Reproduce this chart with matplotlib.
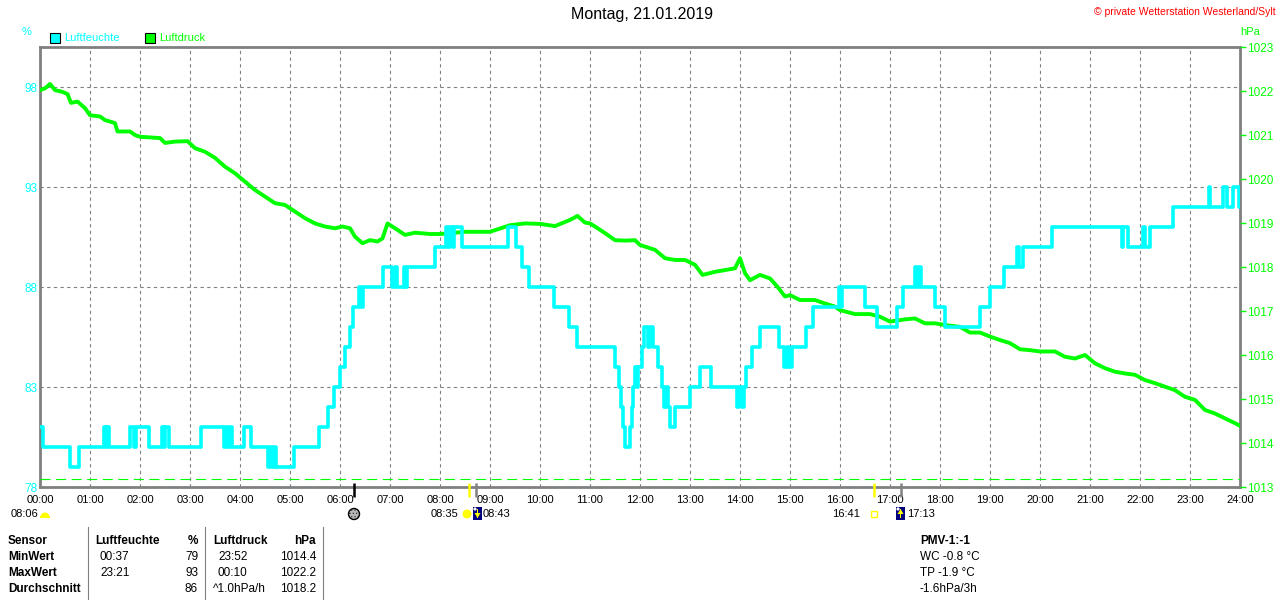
"""
Tagesgrafik Luftfeuchte / Luftdruck - Wetterstation Westerland/Sylt, 21.01.2019
"""

import matplotlib
matplotlib.use('Agg')
import matplotlib.pyplot as plt
import matplotlib.transforms as mtransforms
from matplotlib.patches import Rectangle, Circle, Wedge, Polygon

plt.rcParams['font.family'] = ['Liberation Sans', 'DejaVu Sans']
plt.rcParams['hatch.linewidth'] = 0.6

W, H = 1280, 600

# --- data --------------------------------------------------------------
title = "Montag, 21.01.2019"
copyright_text = "\u00a9 private Wetterstation Westerland/Sylt"

hour_ticks = list(range(25))
hour_labels = [f"{h:02d}:00" for h in hour_ticks]

hum_ticks = [78, 83, 88, 93, 98]
hum_lim = (78, 100)
press_ticks = list(range(1013, 1024))
press_lim = (1013, 1023)
press_ref_line = 1013.18

# Luftfeuchte in % (step, starting hour)
hum_t = [0.00, 0.05, 0.60, 0.77, 1.28, 1.31, 1.34, 1.37, 1.79, 1.88, 1.91, 2.17,
         2.44, 2.47, 2.50, 2.58, 3.21, 3.68, 3.72, 3.76, 3.79, 3.83, 4.07, 4.21,
         4.56, 4.60, 4.64, 4.68, 4.72, 5.07, 5.57, 5.75, 5.87, 6.00, 6.10, 6.19,
         6.25, 6.37, 6.41, 6.45, 6.85, 7.03, 7.10, 7.14, 7.27, 7.30, 7.34, 7.90,
         8.12, 8.16, 8.20, 8.25, 8.28, 8.43, 9.37, 9.52, 9.63, 9.77, 10.27, 10.57,
         10.73, 11.50, 11.57, 11.62, 11.66, 11.69, 11.79, 11.83, 11.86, 11.90, 11.93,
         11.96, 12.03, 12.08, 12.15, 12.19, 12.25, 12.35, 12.43, 12.47, 12.51, 12.55,
         12.59, 12.69, 13.00, 13.19, 13.42, 13.93, 13.98, 14.03, 14.08, 14.12, 14.23,
         14.39, 14.77, 14.87, 14.93, 14.98, 15.03, 15.32, 15.45, 15.97, 16.00, 16.04,
         16.50, 16.73, 17.13, 17.25, 17.50, 17.54, 17.58, 17.62, 17.90, 18.10, 18.80,
         19.00, 19.27, 19.53, 19.58, 19.66, 20.23, 21.63, 21.66, 21.75, 22.05, 22.10,
         22.20, 22.65, 23.37, 23.40, 23.65, 23.73, 23.85, 23.97, 24.00]
hum_v = [81, 80, 79, 80, 81, 80, 81, 80, 81, 80, 81, 80,
         81, 80, 81, 80, 81, 80, 81, 80, 81, 80, 81, 80,
         79, 80, 79, 80, 79, 80, 81, 82, 83, 84, 85, 86,
         87, 88, 87, 88, 89, 88, 89, 88, 89, 88, 89, 90,
         91, 90, 91, 90, 91, 90, 91, 90, 89, 88, 87, 86,
         85, 84, 83, 82, 81, 80, 81, 82, 83, 84, 83,
         84, 85, 86, 85, 86, 85, 84, 83, 82, 83, 82,
         81, 82, 83, 84, 83, 82, 83, 82, 83, 84, 85,
         86, 85, 84, 85, 84, 85, 86, 87, 88, 87, 88,
         87, 86, 87, 88, 89, 88, 89, 88, 87, 86, 87,
         88, 89, 90, 89, 90, 91, 90, 91, 90, 91, 90,
         91, 92, 93, 92, 93, 92, 93, 92, 92]

# Luftdruck in hPa
press_t = [0.0, 0.1, 0.2, 0.3, 0.45, 0.55, 0.62, 0.75, 0.9, 1.0, 1.2, 1.3, 1.5, 1.55,
           1.8, 1.9, 2.0, 2.4, 2.5, 2.7, 2.95, 3.1, 3.3, 3.5, 3.7, 3.9, 4.1, 4.3, 4.5,
           4.7, 4.9, 5.1, 5.3, 5.5, 5.7, 5.9, 6.05, 6.2, 6.3, 6.45, 6.6, 6.75, 6.85,
           6.95, 7.1, 7.3, 7.5, 7.8, 8.0, 8.5, 9.0, 9.4, 9.7, 10.0, 10.3, 10.6, 10.75,
           10.9, 11.0, 11.1, 11.3, 11.5, 11.7, 11.9, 12.0, 12.3, 12.5, 12.7, 12.9, 13.1,
           13.25, 13.5, 13.9, 14.0, 14.1, 14.2, 14.4, 14.6, 14.75, 14.9, 15.0, 15.2,
           15.5, 15.7, 15.9, 16.0, 16.3, 16.6, 16.8, 17.0, 17.3, 17.5, 17.7, 17.9, 18.1,
           18.4, 18.6, 18.8, 19.0, 19.2, 19.4, 19.6, 19.8, 20.0, 20.3, 20.5, 20.7, 20.9,
           21.1, 21.3, 21.5, 21.7, 21.9, 22.1, 22.3, 22.5, 22.7, 22.9, 23.1, 23.3, 23.5,
           23.7, 23.9, 24.0]
press_v = [1022.02, 1022.06, 1022.16, 1022.02, 1021.98, 1021.93, 1021.73, 1021.76,
           1021.61, 1021.45, 1021.42, 1021.34, 1021.27, 1021.08, 1021.08, 1021.00,
           1020.96, 1020.93, 1020.82, 1020.85, 1020.86, 1020.70, 1020.62, 1020.48,
           1020.28, 1020.13, 1019.94, 1019.75, 1019.60, 1019.45, 1019.41, 1019.26,
           1019.11, 1018.99, 1018.92, 1018.88, 1018.92, 1018.88, 1018.69, 1018.54,
           1018.61, 1018.58, 1018.65, 1018.99, 1018.88, 1018.73, 1018.78, 1018.75,
           1018.75, 1018.80, 1018.80, 1018.95, 1018.99, 1018.98, 1018.93, 1019.07,
           1019.16, 1019.01, 1018.99, 1018.92, 1018.77, 1018.61, 1018.60, 1018.61,
           1018.50, 1018.39, 1018.20, 1018.16, 1018.16, 1018.05, 1017.82, 1017.89,
           1017.97, 1018.20, 1017.86, 1017.70, 1017.82, 1017.74, 1017.55, 1017.33,
           1017.36, 1017.25, 1017.25, 1017.17, 1017.10, 1017.02, 1016.93, 1016.93,
           1016.87, 1016.76, 1016.81, 1016.83, 1016.72, 1016.72, 1016.68, 1016.64,
           1016.51, 1016.51, 1016.42, 1016.34, 1016.27, 1016.13, 1016.11, 1016.08,
           1016.08, 1015.96, 1015.92, 1016.00, 1015.81, 1015.70, 1015.62, 1015.58,
           1015.55, 1015.43, 1015.36, 1015.28, 1015.20, 1015.05, 1014.98, 1014.75,
           1014.67, 1014.56, 1014.45, 1014.39]

# Sonne / Mond Ereignisse (Stunden)
moon_full_t = 6.28
sunrise_t, sunrise2_t = 8.58, 8.72
sunset_t, sunset2_t = 16.68, 17.22
moonset_label = "08:06"
sun_labels = ["08:35", "08:43", "16:41", "17:13"]

# Tabelle unten
table_rows = ["Sensor", "MinWert", "MaxWert", "Durchschnitt"]
hum_cols = [("Luftfeuchte", "%"), ("00:37", "79"), ("23:21", "93"), ("", "86")]
press_cols = [("Luftdruck", "hPa"), ("23:52", "1014.4"), ("00:10", "1022.2"),
              ("^1.0hPa/h", "1018.2")]
pmv_lines = ["PMV-1:-1", "WC -0.8 \u00b0C", "TP -1.9 \u00b0C", "-1.6hPa/3h"]

CYAN = '#00FFFF'
GREEN = '#00FF00'
YELLOW = '#FFFF00'
NAVY = '#000080'
GRAY = '#808080'

fig = plt.figure(figsize=(W / 100, H / 100), dpi=100)
left, right, top, bottom = 40, 1240, 47, 487
ax = fig.add_axes([left / W, 1 - bottom / H, (right - left) / W, (bottom - top) / H])
ax2 = ax.twinx()
ax3 = ax.twinx()

# grid + left axis
ax.set_xlim(0, 24)
ax.set_ylim(*hum_lim)
ax.set_xticks(hour_ticks)
ax.set_xticklabels(hour_labels, fontsize=8)
ax.set_yticks(hum_ticks)
ax.set_yticklabels([str(v) for v in hum_ticks], fontsize=8.5, color=CYAN)
ax.tick_params(axis='both', length=0)
ax.tick_params(axis='x', pad=6)
ax.tick_params(axis='y', pad=2)
ax.grid(True, color=GRAY, linestyle=(0, (3, 3)), linewidth=0.8)
for s in ax.spines.values():
    s.set_color(GRAY)
    s.set_linewidth(2.0)

# pressure
ax2.set_ylim(*press_lim)
ax2.set_yticks(press_ticks)
ax2.set_yticklabels([str(v) for v in press_ticks], fontsize=8.5, color=GREEN)
ax2.tick_params(axis='y', length=4, width=1, color=GREEN, pad=1)
for s in ax2.spines.values():
    s.set_visible(False)
ax2.axhline(press_ref_line, color=GREEN, linewidth=0.8, linestyle=(0, (9, 5)))
ax2.plot(press_t, press_v, color=GREEN, linewidth=2.8)

# humidity on top
ax3.set_ylim(*hum_lim)
ax3.axis('off')
ax3.step(hum_t, hum_v, where='post', color=CYAN, linewidth=2.6)

# overlay in pixel coordinates for the decorations
ov = fig.add_axes([0, 0, 1, 1], zorder=10)
ov.set_xlim(0, W)
ov.set_ylim(H, 0)
ov.axis('off')
ov.patch.set_visible(False)


def txt(x, y, s, **kw):
    kw.setdefault('fontsize', 8)
    kw.setdefault('va', 'center')
    ov.text(x, y, s, **kw)


# titles & legend
txt(642, 15, title, ha='center', fontsize=11.5)
txt(1276, 12, copyright_text, ha='right', fontsize=7.5, color='red')
txt(22, 32, "%", ha='left', color=CYAN)
txt(1240, 32, "hPa", ha='left', color=GREEN)
for x0, col, label in [(50, CYAN, "Luftfeuchte"), (145, GREEN, "Luftdruck")]:
    ov.add_patch(Rectangle((x0, 33), 10, 10, facecolor=col, edgecolor='black', linewidth=0.8))
    txt(x0 + 14, 38, label, ha='left', color=col)

# sun / moon markers below the axis
trans = mtransforms.blended_transform_factory(ax.transData, fig.transFigure)
y_a, y_b = 1 - 483 / H, 1 - 497 / H
for t, col in [(moon_full_t, 'black'), (sunrise_t, YELLOW), (sunrise2_t, GRAY),
               (sunset_t, YELLOW), (sunset2_t, GRAY)]:
    ax.plot([t, t], [y_a, y_b], transform=trans, color=col, linewidth=1.8,
            clip_on=False, zorder=5, solid_capstyle='butt')

ylab = 514
txt(38, ylab, moonset_label, ha='right')
ov.add_patch(Wedge((45, 517), 4.5, 180, 360, facecolor=YELLOW, edgecolor='none'))
ov.add_patch(Rectangle((40, 516), 10, 2, facecolor=YELLOW, edgecolor='none'))
ov.add_patch(Circle((354, 514), 5.5, facecolor='#B8B8B8', edgecolor='#404040',
                    linewidth=0.0, hatch='.....'))
ov.add_patch(Circle((354, 514), 5.5, facecolor='none', edgecolor='black', linewidth=1.0))
txt(458, ylab, sun_labels[0], ha='right')
ov.add_patch(Circle((467, 514), 4.5, facecolor=YELLOW, edgecolor='none'))
txt(483, ylab, sun_labels[1], ha='left')
txt(860, ylab, sun_labels[2], ha='right')
ov.add_patch(Rectangle((871, 511), 6, 6, facecolor='none', edgecolor=YELLOW, linewidth=1.0))
txt(907, ylab, sun_labels[3], ha='left')
for bx, down in [(473, True), (896, False)]:
    ov.add_patch(Rectangle((bx, 507), 9, 13, facecolor=NAVY, edgecolor='none'))
    ov.add_patch(Circle((bx + 2, 509), 1.6, facecolor='white', edgecolor='none'))
    ov.add_patch(Rectangle((bx + 3.8, 509), 1.6, 9, facecolor=YELLOW, edgecolor='none'))
    if down:
        tri = [(bx + 1.5, 513), (bx + 7.5, 513), (bx + 4.6, 518)]
    else:
        tri = [(bx + 1.5, 514), (bx + 7.5, 514), (bx + 4.6, 509)]
    ov.add_patch(Polygon(tri, closed=True, facecolor=YELLOW, edgecolor='none'))

# table
row_y = [541, 557, 573, 589]
for xs in [88, 205, 323]:
    ov.plot([xs, xs], [527, 600], color=GRAY, linewidth=0.8)
for i, (name, y) in enumerate(zip(table_rows, row_y)):
    w = 'bold' if i == 0 else 'normal'
    ht, hv = hum_cols[i]
    pt, pv = press_cols[i]
    txt(8, y, name, ha='left', fontsize=8.5, fontweight='bold')
    txt(95 if i == 0 else 100, y, ht, ha='left', fontsize=8.5, fontweight=w)
    txt(198, y, hv, ha='right', fontsize=8.5, fontweight=w)
    txt(213 if i in (0, 3) else 218, y, pt, ha='left', fontsize=8.5, fontweight=w)
    txt(316, y, pv, ha='right', fontsize=8.5, fontweight=w)
    txt(920, y, pmv_lines[i], ha='left', fontsize=8.5, fontweight=w)

fig.savefig("out.png", dpi=100)
